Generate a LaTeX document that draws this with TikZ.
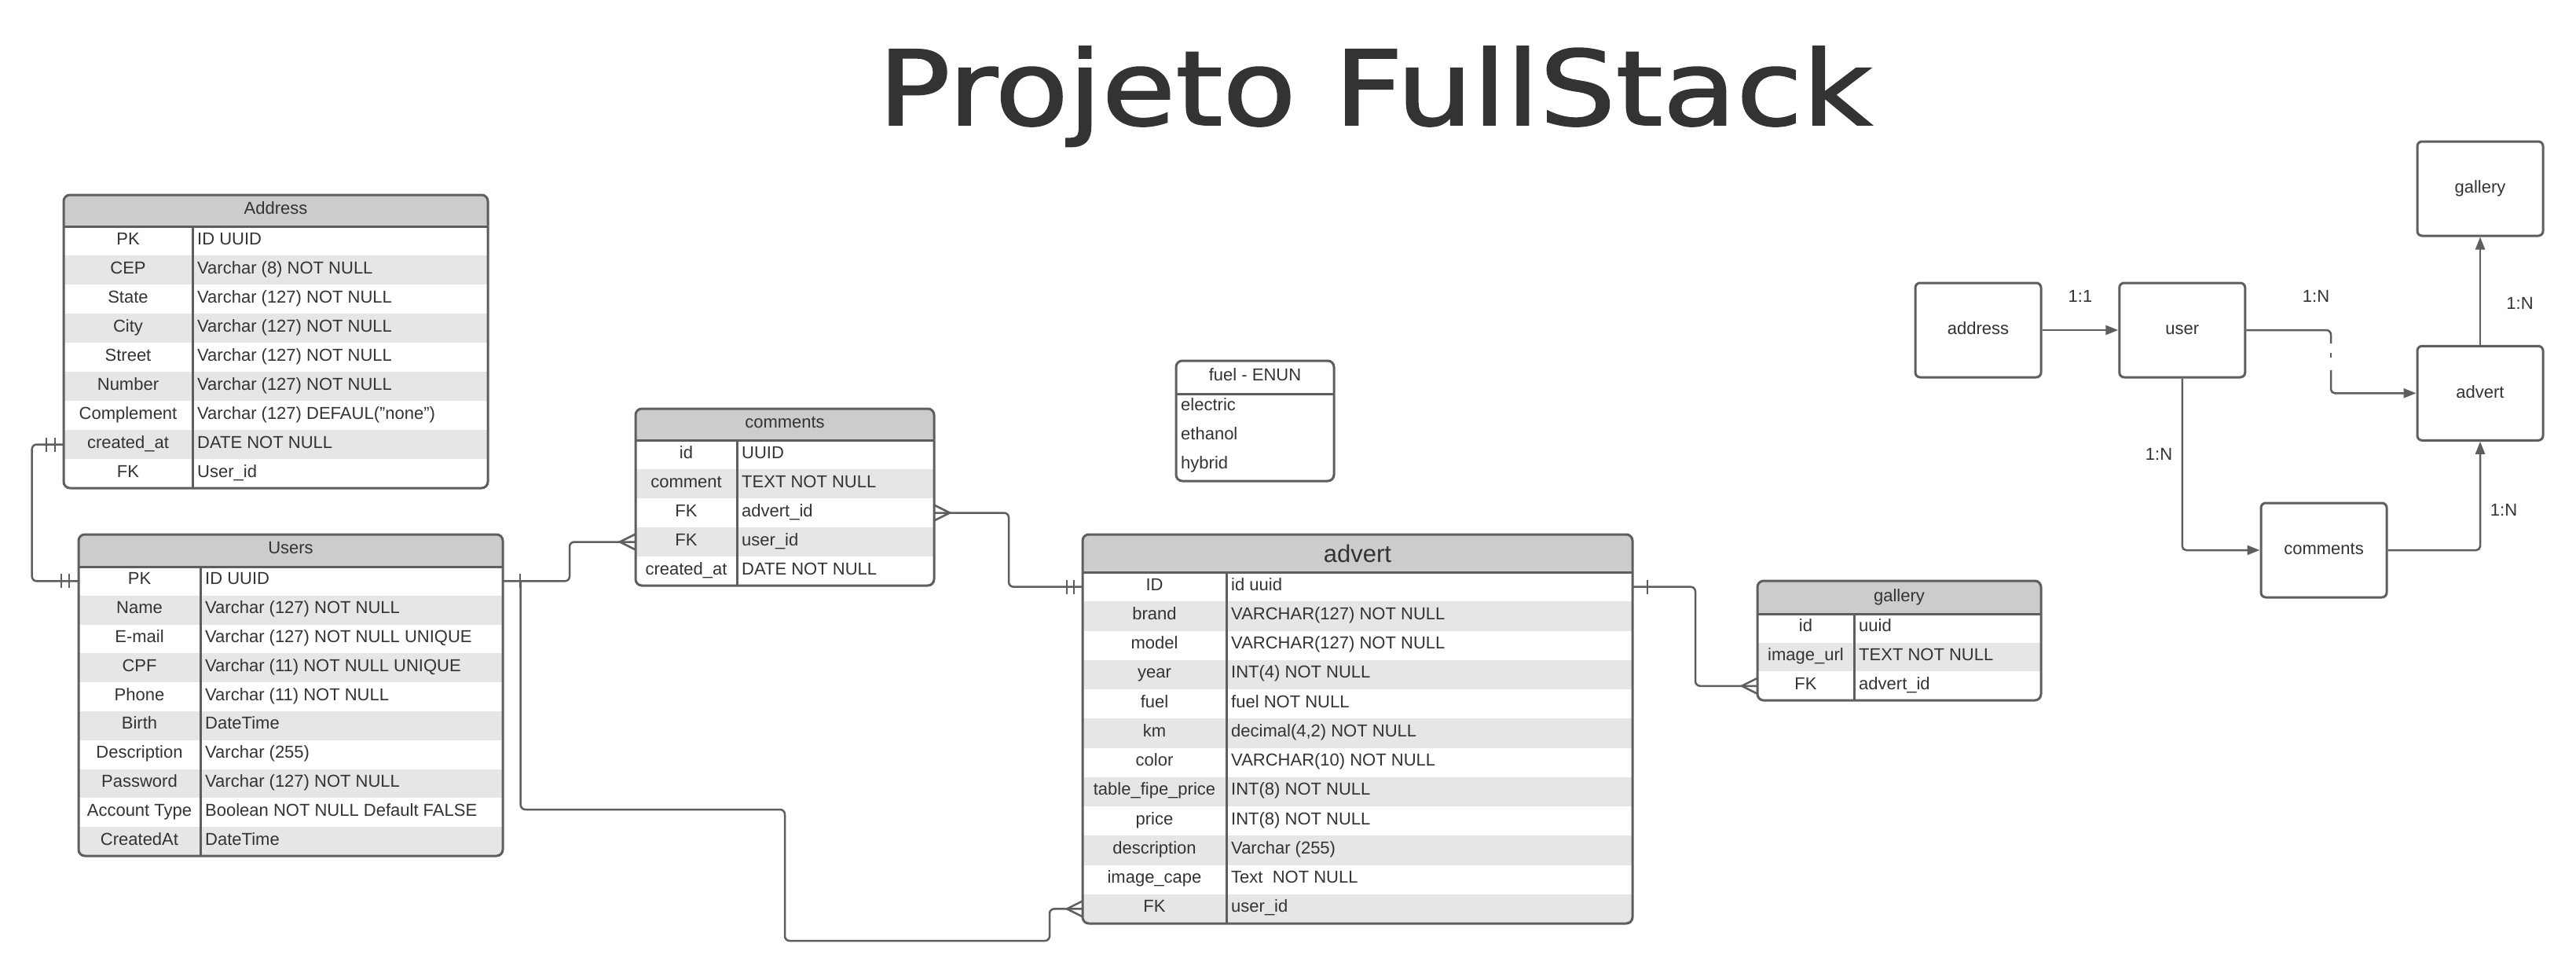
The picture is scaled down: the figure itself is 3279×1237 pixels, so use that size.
\documentclass[tikz,border=0pt]{standalone}
\usepackage{fontspec}
\setmainfont{Liberation Sans}
\newfontfamily\titlefont[FakeBold=1.5]{DejaVu Sans}
\usetikzlibrary{arrows.meta,calc}
\definecolor{linec}{HTML}{5E5E5E}
\definecolor{hdrc}{HTML}{CCCCCC}
\definecolor{rowc}{HTML}{E6E6E6}
\definecolor{txtc}{HTML}{333333}
\tikzset{
  tframe/.style={draw=linec, line width=3pt, rounded corners=8pt, inner sep=0pt},
  tline/.style={draw=linec, line width=3pt},
  cell/.style={inner sep=0pt, text=txtc, font=\fontsize{22}{26}\selectfont},
  keytxt/.style={cell, anchor=base},
  valtxt/.style={cell, anchor=base west},
  conn/.style={draw=linec, line width=2.5pt, rounded corners=6pt},
  tickline/.style={draw=linec, line width=2.5pt},
  ebox/.style={draw=linec, line width=3pt, rounded corners=6pt, minimum width=160pt,
    minimum height=120pt, fill=white, text=txtc, font=\fontsize{22}{26}\selectfont,
    text height=15pt, text depth=3.6pt, inner sep=0pt},
  arr/.style={conn, rounded corners=5pt, -{Triangle[length=16pt,width=12pt]}},
  lbl/.style={cell, anchor=base},
}
% #1 name, #2 x0, #3 x1, #4 xdiv, #5 ytop, #6 yhead, #7 rowh, #8 nrows, #9 rows
\newcommand\ertable[9]{%
  \pgfmathsetmacro\tyb{#6+#7*#8}%
  \begin{scope}
    \clip[rounded corners=8pt] (#2,#5) rectangle (#3,\tyb);
    \fill[hdrc] (#2,#5) rectangle (#3,#6);
    \foreach \k/\v [count=\i] in {#9} {
      \pgfmathsetmacro\ya{#6+(\i-1)*#7}
      \pgfmathsetmacro\yb{#6+\i*#7}
      \ifodd\i\else \fill[rowc] (#2,\ya) rectangle (#3,\yb);\fi
    }
  \end{scope}
  \foreach \k/\v [count=\i] in {#9} {
    \pgfmathsetmacro\yc{#6+(\i-0.5)*#7+4.5}
    \pgfmathsetmacro\ym{#6+(\i-0.5)*#7}
    \node[keytxt] (#1-k\i) at ({(#2+#4)/2},\yc) {\k};
    \node[valtxt] (#1-v\i) at (#4+6,\yc) {\v};
    \coordinate (#1-w\i) at (#2,\ym);
    \coordinate (#1-e\i) at (#3,\ym);
  }
  \draw[tline] (#2,#6) -- (#3,#6);
  \draw[tline] (#4,#6) -- (#4,\tyb);
  \node[tframe, minimum width={(#3-#2)*1pt}, minimum height={(\tyb-#5)*1pt}] (#1)
    at ({(#2+#3)/2},{(#5+\tyb)/2}) {};
}
\newcommand\ertick[2]{\draw[tickline] ($(#1)+(#2,-9)$) -- ($(#1)+(#2,9)$);}
\newcommand\ercrow[2]{\draw[tickline] ($(#1)+(0,-10)$) -- ($(#1)+(#2,0)$) -- ($(#1)+(0,10)$);}

\begin{document}
\begin{tikzpicture}[x=1pt,y=-1pt]
\fill[white] (0,0) rectangle (3279,1237);
\useasboundingbox (0,0) rectangle (3279,1237);

% title
\node[anchor=base, text=txtc, inner sep=0pt] (title) at (1750,159)
  {\scalebox{1.16}[1]{\titlefont\fontsize{131.7}{140}\selectfont Projeto FullStack}};

% Address
\ertable{address}{81}{621}{245}{248}{288}{37}{9}{PK/{ID UUID}, CEP/{Varchar (8) NOT NULL},
  State/{Varchar (127) NOT NULL}, City/{Varchar (127) NOT NULL}, Street/{Varchar (127) NOT NULL},
  Number/{Varchar (127) NOT NULL}, Complement/{Varchar (127) DEFAUL("none")},
  created\_at/{DATE NOT NULL}, FK/{User\_id}}
\node[lbl] (address-title) at (351,272.7) {Address};

% Users
\ertable{users}{100}{640}{255}{680}{721}{36.8}{10}{PK/{ID UUID}, Name/{Varchar (127) NOT NULL},
  E-mail/{Varchar (127) NOT NULL UNIQUE}, CPF/{Varchar (11) NOT NULL UNIQUE},
  Phone/{Varchar (11) NOT NULL}, Birth/{DateTime}, Description/{Varchar (255)},
  Password/{Varchar (127) NOT NULL}, Account Type/{Boolean NOT NULL Default FALSE},
  CreatedAt/{DateTime}}
\node[lbl] (users-title) at (370,704.5) {Users};

% comments
\ertable{comments}{809}{1189}{938}{520}{560}{37}{5}{id/{UUID}, comment/{TEXT NOT NULL},
  FK/{advert\_id}, FK/{user\_id}, created\_at/{DATE NOT NULL}}
\node[lbl] (comments-title) at (999,544.5) {comments};

% advert
\ertable{advert}{1378}{2078}{1561}{680}{728}{37.25}{12}{ID/{id uuid},
  brand/{VARCHAR(127) NOT NULL}, model/{VARCHAR(127) NOT NULL}, year/{INT(4) NOT NULL},
  fuel/{fuel NOT NULL}, km/{decimal(4,2) NOT NULL}, color/{VARCHAR(10) NOT NULL},
  table\_fipe\_price/{INT(8) NOT NULL}, price/{INT(8) NOT NULL}, description/{Varchar (255)},
  image\_cape/{Text\ \ NOT NULL}, FK/{user\_id}}
\node[lbl, font=\fontsize{31}{36}\selectfont] (advert-title) at (1728,715) {advert};

% gallery
\ertable{gallery}{2237}{2598}{2360}{739}{781}{36.7}{3}{id/{uuid}, image\_url/{TEXT NOT NULL},
  FK/{advert\_id}}
\node[lbl] (gallery-title) at (2417.5,765) {gallery};

% fuel enum
\draw[tline] (1497,501) -- (1698,501);
\node[tframe, minimum width=201pt, minimum height=153pt] (fuel) at (1597.5,535.5) {};
\node[lbl] (fuel-title) at (1597.5,484.3) {fuel - ENUN};
\node[valtxt] (fuel-1) at (1503,522) {electric};
\node[valtxt] (fuel-2) at (1503,559) {ethanol};
\node[valtxt] (fuel-3) at (1503,596) {hybrid};

% ER connectors
\draw[conn] (address-w8) -- ++(-40.3,0) |- (users-w1);
\ertick{address-w8}{-11}\ertick{address-w8}{-22}
\ertick{users-w1}{-12}\ertick{users-w1}{-22}

\coordinate (ubranch) at ($(users-e1)+(22.7,0)$);
\draw[conn] (users-e1) -- ++(85,0) |- (comments-w4);
\ertick{users-e1}{22}
\ercrow{comments-w4}{-20}

\draw[conn] (ubranch) |- (999,1030) |- (1336,1197) |- (advert-w12);
\ercrow{advert-w12}{-20}

\draw[conn] (comments-e3) -- ++(95,0) |- (advert-w1);
\ercrow{comments-e3}{20}
\ertick{advert-w1}{-11}\ertick{advert-w1}{-20}

\draw[conn] (advert-e1) -- ++(80,0) |- (gallery-w3);
\ertick{advert-e1}{19}
\ercrow{gallery-w3}{-20}

% relationship overview
\node[ebox] (eaddress) at (2518,420) {address};
\node[ebox] (euser) at (2777.75,420) {user};
\node[ebox] (egallery) at (3157,240) {gallery};
\node[ebox] (eadvert) at (3157,500.3) {advert};
\node[ebox] (ecomments) at (2958,700) {comments};

\draw[arr] (eaddress.east) -- (euser.west);
\draw[arr] (eadvert.north) -- (egallery.south);
\draw[arr] (euser.south) |- (ecomments.west);
\draw[arr] (ecomments.east) -| (eadvert.south);
\coordinate (gapA) at (2967,437);
\coordinate (gapB) at (2967,449);
\coordinate (gapC) at (2967,455);
\coordinate (gapD) at (2967,471);
\draw[conn] (euser.east) -| (gapA);
\draw[tickline] (gapB) -- (gapC);
\draw[arr] (gapD) |- (eadvert.west);

\node[lbl] (l-aa) at (2648,384.6) {1:1};
\node[lbl] (l-ua) at (2948,384.6) {1:N};
\node[lbl] (l-ag) at (3207.5,393.3) {1:N};
\node[lbl] (l-uc) at (2748,585) {1:N};
\node[lbl] (l-ca) at (3187,656.6) {1:N};
\end{tikzpicture}
\end{document}
